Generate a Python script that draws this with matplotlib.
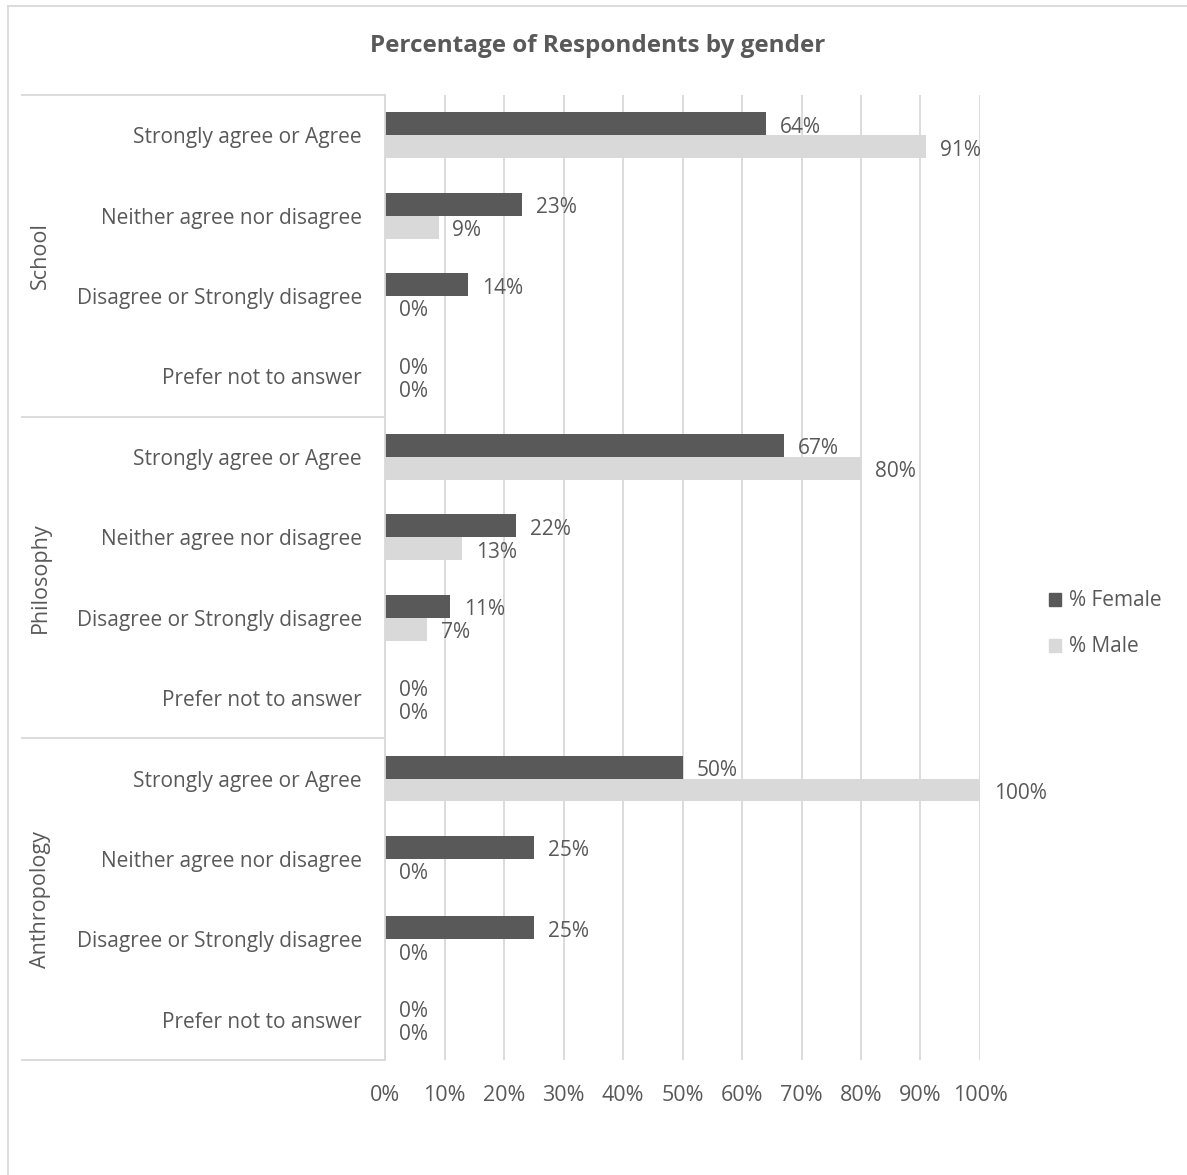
import matplotlib.pyplot as plt
from matplotlib.lines import Line2D
from matplotlib.patches import Patch
import numpy as np

plt.rcParams["font.family"] = ["Open Sans", "DejaVu Sans"]

groups = ["School", "Philosophy", "Anthropology"]
answers = ["Strongly agree or Agree", "Neither agree nor disagree",
           "Disagree or Strongly disagree", "Prefer not to answer"]
female = [64, 23, 14, 0, 67, 22, 11, 0, 50, 25, 25, 0]
male = [91, 9, 0, 0, 80, 13, 7, 0, 100, 0, 0, 0]
xticks = list(range(0, 101, 10))

dark = "#595959"
light = "#d9d9d9"
text_c = "#595959"

W, H = 1187, 1175
fig = plt.figure(figsize=(W / 100, H / 100), dpi=100)

# plot area in pixel terms
x0, x1, y0, y1 = 385, 980, 95, 1060
ax = fig.add_axes([x0 / W, 1 - y1 / H, (x1 - x0) / W, (y1 - y0) / H])

n = len(female)
pos = np.arange(n)
h = 0.285
ax.barh(pos - h / 2, female, height=h, color=dark, label="% Female")
ax.barh(pos + h / 2, male, height=h, color=light, label="% Male")

ax.set_ylim(n - 0.5, -0.5)
ax.set_xlim(0, 100)

# value labels
for i in range(n):
    ax.annotate(f"{female[i]}%", (female[i], pos[i] - h / 2), xytext=(10, -2.5),
                textcoords="offset points", ha="left", va="center",
                fontsize=15, color=text_c)
    ax.annotate(f"{male[i]}%", (male[i], pos[i] + h / 2), xytext=(10, -2.5),
                textcoords="offset points", ha="left", va="center",
                fontsize=15, color=text_c)

# gridlines and axis styling
ax.set_xticks(xticks)
ax.set_xticklabels([f"{t}%" for t in xticks], fontsize=15.5, color=text_c)
ax.tick_params(axis="x", length=0, pad=18)
ax.xaxis.grid(True, color=light, linewidth=1.3)
ax.set_axisbelow(True)
for s in ["top", "right", "bottom"]:
    ax.spines[s].set_visible(False)
ax.spines["left"].set_color(light)
ax.spines["left"].set_linewidth(1.3)

ax.set_yticks(pos)
ax.set_yticklabels(answers * 3, fontsize=15, color=text_c)
ax.tick_params(axis="y", length=0, pad=16.5)

# group boxes on the category axis
ytr = ax.get_yaxis_transform()
left = (22 - x0) / (x1 - x0)
for b in [-0.5, 3.5, 7.5, 11.5]:
    ax.plot([left, 0], [b, b], color=light, linewidth=1.3,
            transform=ytr, clip_on=False)
glab = (40 - x0) / (x1 - x0)
for g, name in enumerate(groups):
    ax.text(glab, g * 4 + 1.5, name, rotation=90, ha="center", va="center",
            fontsize=15.5, color=text_c, transform=ytr)

fig.text(598 / W, 1 - 46 / H, "Percentage of Respondents by gender",
         ha="center", va="center", fontsize=17.5, fontweight="bold", color=text_c)

handles = [Patch(color=dark, label="% Female"), Patch(color=light, label="% Male")]
leg = fig.legend(handles=handles, loc="center left",
                 bbox_to_anchor=(1030 / W, 1 - 624 / H), frameon=False,
                 fontsize=15, handlelength=0.6, handleheight=0.6,
                 handletextpad=0.35, labelspacing=1.2)
for t in leg.get_texts():
    t.set_color(text_c)

# outer chart frame
fig.add_artist(Line2D([8 / W, 1], [1 - 6 / H, 1 - 6 / H], color=light, linewidth=1.3))
fig.add_artist(Line2D([8 / W, 8 / W], [0, 1 - 6 / H], color=light, linewidth=1.3))

fig.savefig("out.png", dpi=100)
